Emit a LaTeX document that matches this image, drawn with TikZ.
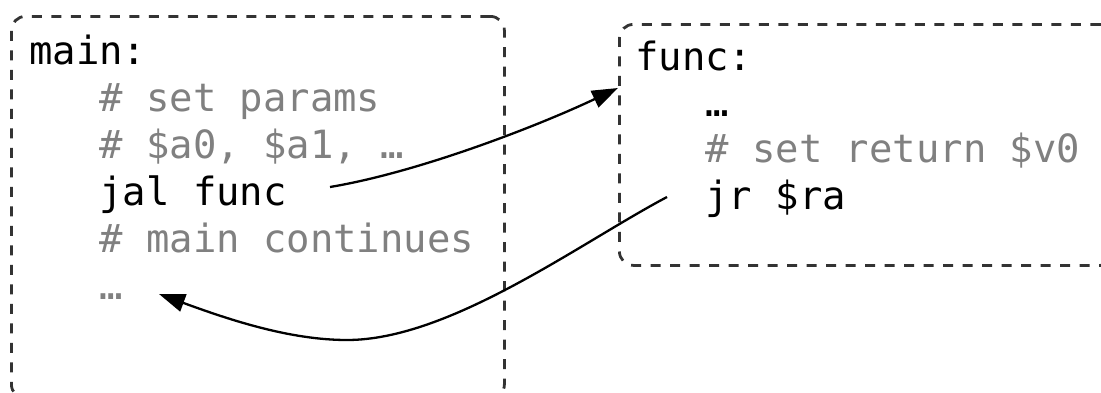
\documentclass[tikz,border=0pt]{standalone}
\usepackage{fontspec}
\newfontfamily\codefont{DejaVu Sans Mono}
\usetikzlibrary{arrows.meta}
\definecolor{commentgray}{HTML}{808080}
\definecolor{bordergray}{HTML}{333333}
\tikzset{
  codebox/.style={draw=bordergray, line width=2.8pt, dash pattern=on 10pt off 9.5pt,
    rounded corners=14pt, rectangle, inner sep=0pt, anchor=north west},
  code/.style={anchor=base west, inner sep=0pt, text=black,
    font=\codefont\fontsize{38.9}{47}\selectfont},
  comment/.style={code, text=commentgray},
  flow/.style={draw=black, line width=2.3pt, -{Triangle[length=26pt,width=18pt]}}
}
\begin{document}
\begin{tikzpicture}[x=1pt,y=-1pt]
\useasboundingbox (0,0) rectangle (1101,392);
% boxes
\node[codebox, minimum width=493pt, minimum height=382pt] (mainbox) at (10,15) {};
\node[codebox, minimum width=495pt, minimum height=241pt] (funcbox) at (618,23) {};
% main text
\node[code]    (mainlbl) at (29,64)    {main:};
\node[comment] (setpar)  at (99.2,111) {\# set params};
\node[comment] (params)  at (99.2,158) {\# \$a0, \$a1, …};
\node[code]    (jal)     at (99.2,205) {jal func};
\node[comment] (cont)    at (99.2,252) {\# main continues};
\node[comment] (mdots)   at (99.2,299) {…};
% func text
\node[code]    (funclbl) at (635,70)    {func:};
\node[code]    (fdots)   at (705.2,116) {…};
\node[comment] (setret)  at (705.2,162.5) {\# set return \$v0};
\node[code]    (jr)      at (705.2,209) {jr \$ra};
% connector ends
\coordinate (callsrc) at (330,187);
\coordinate (callend) at (618,88);
\coordinate (retsrc)  at (667,197);
\coordinate (retlow)  at (347,340);
\coordinate (retend)  at (159,294);
% connectors
\draw[flow] (callsrc) .. controls (420,172) and (540,125) .. (callend);
\draw[flow] (retsrc) .. controls (580,243) and (450,340) .. (retlow)
            .. controls (290,340) and (230,320) .. (retend);
\end{tikzpicture}
\end{document}
